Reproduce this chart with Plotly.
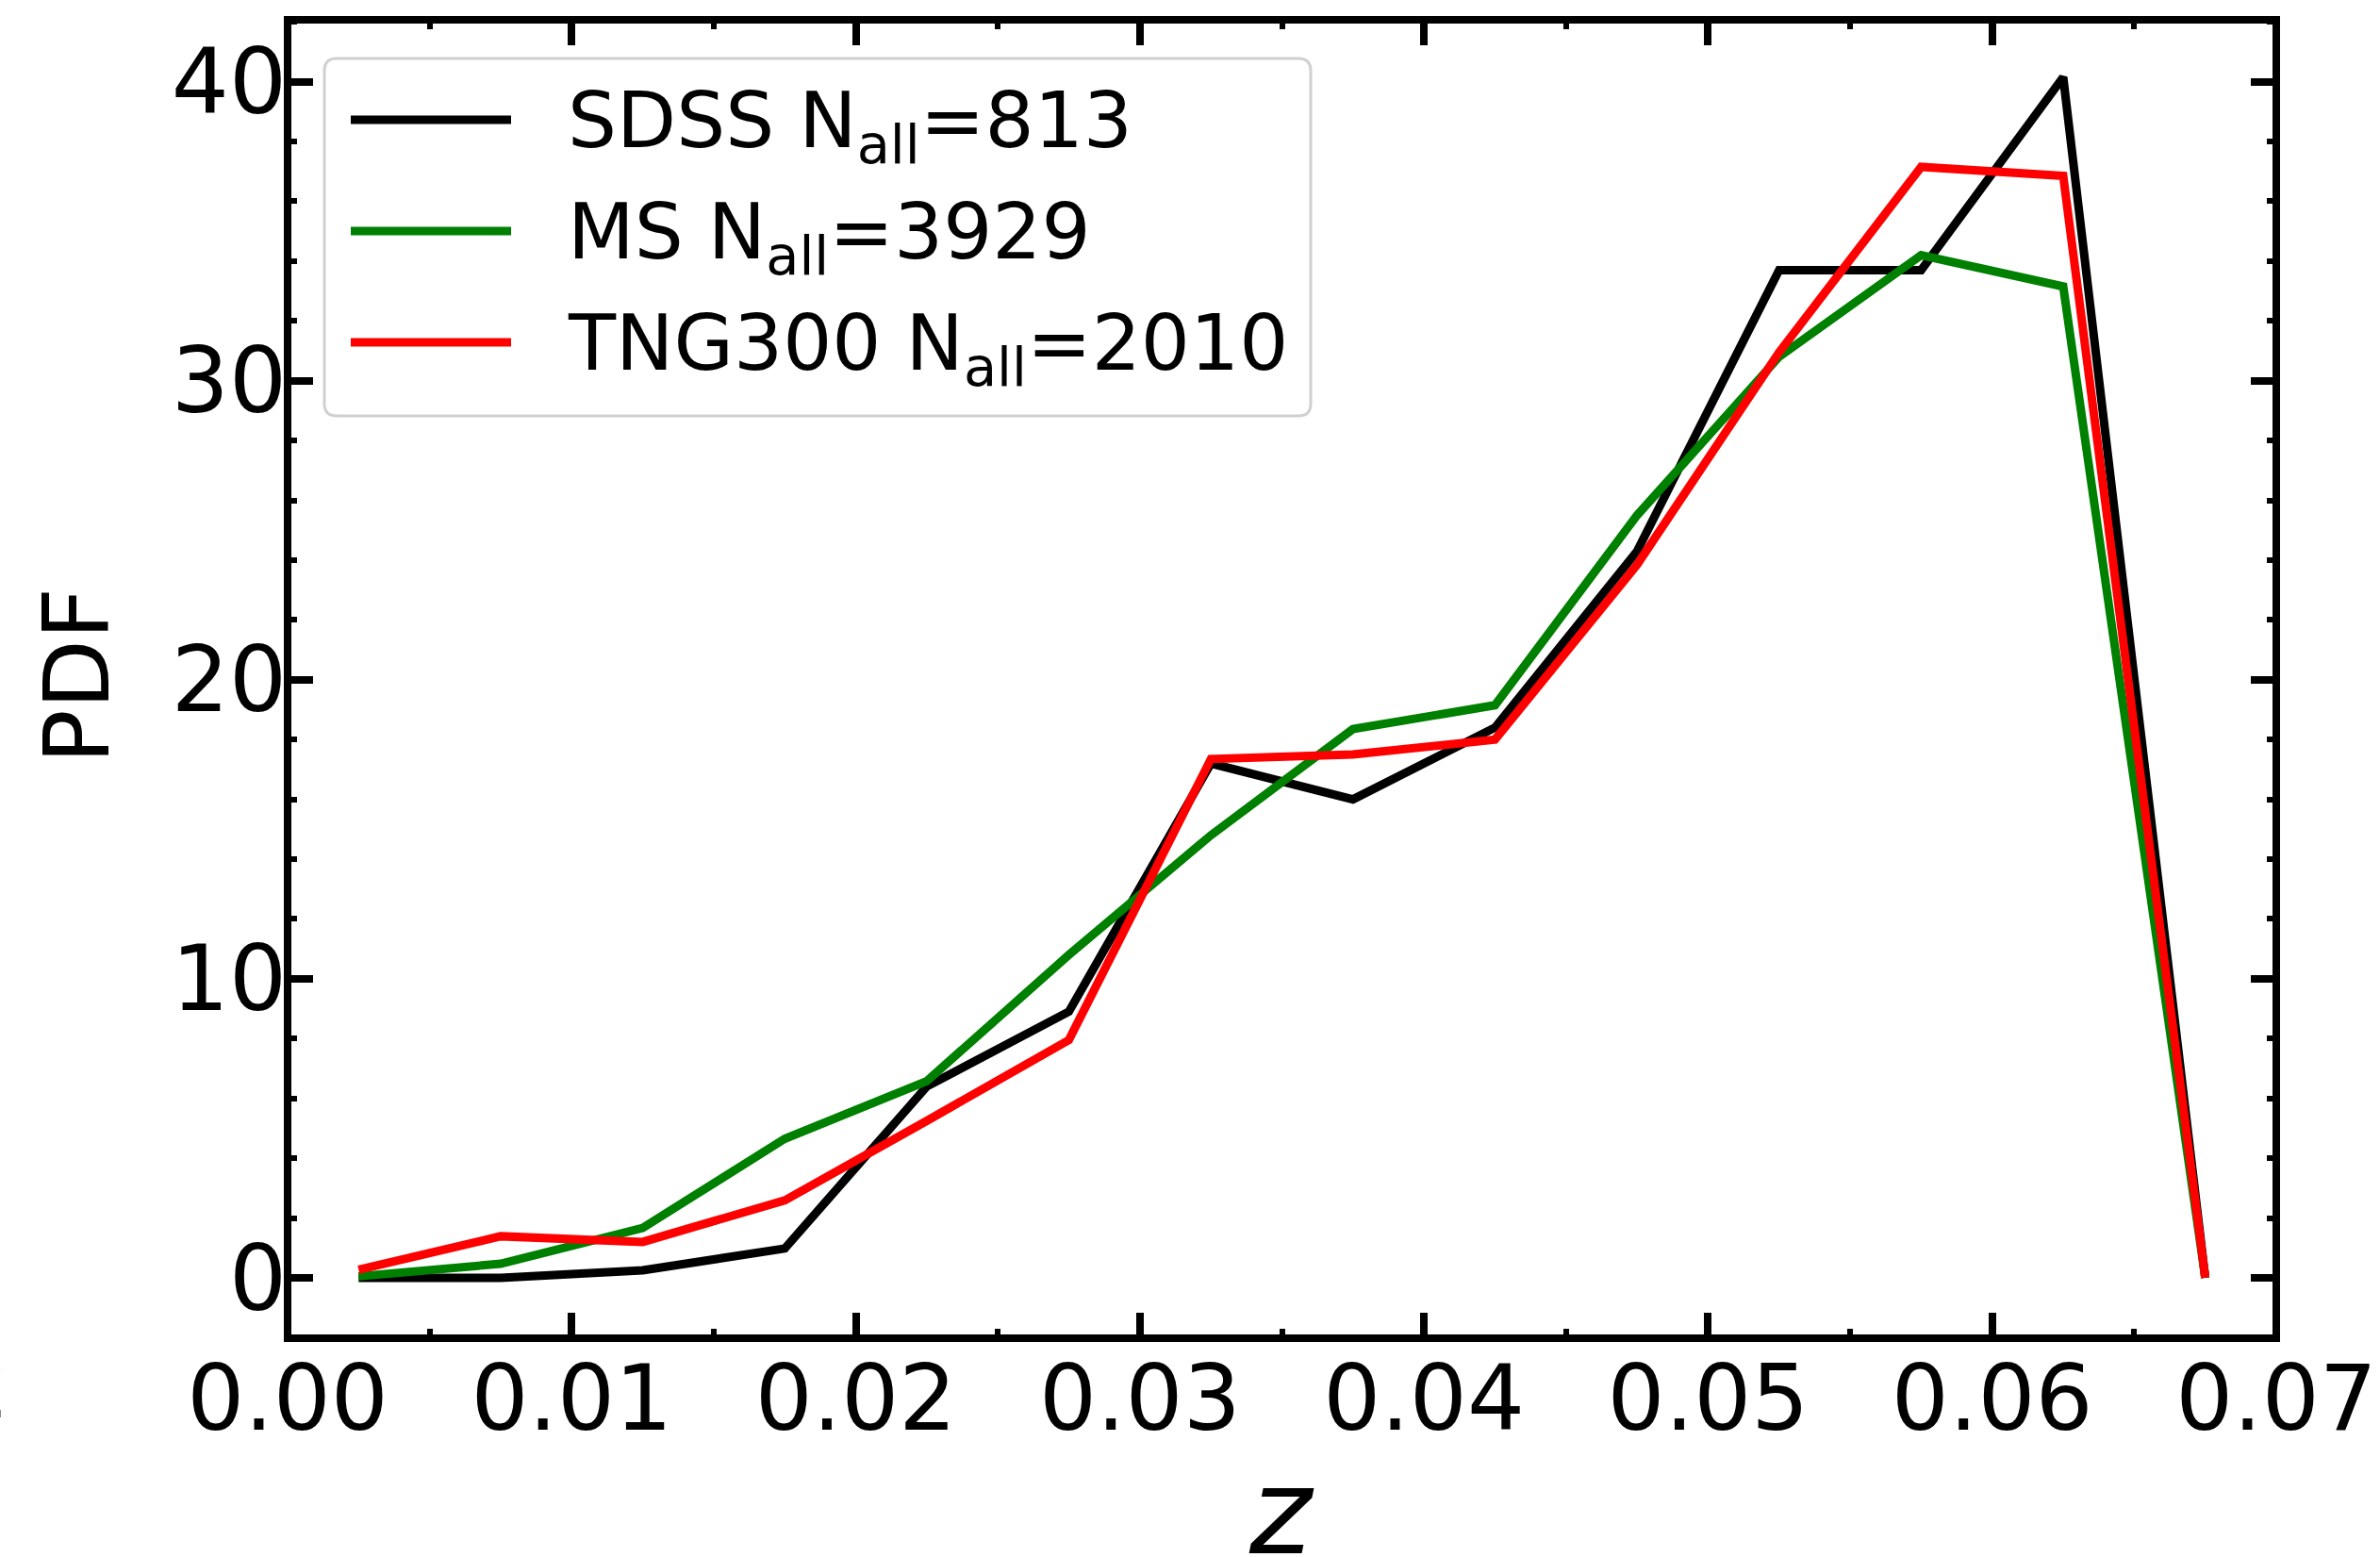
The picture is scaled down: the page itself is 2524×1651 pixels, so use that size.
import plotly.graph_objects as go

# Redshift bin centres and the normalised distributions per sample
z_centers = [0.0025, 0.0075, 0.0125, 0.0175, 0.0225, 0.0275, 0.0325,
             0.0375, 0.0425, 0.0475, 0.0525, 0.0575, 0.0625, 0.0675]
pdf_sdss = [0.0, 0.0, 0.25, 0.98, 6.4, 8.9, 17.2, 16.0, 18.4, 24.3, 33.7, 33.7, 40.15, 0.0]
pdf_ms = [0.05, 0.47, 1.67, 4.65, 6.58, 10.8, 14.8, 18.35, 19.15, 25.5, 30.8, 34.2, 33.15, 0.0]
pdf_tng = [0.27, 1.39, 1.2, 2.59, 5.25, 7.95, 17.35, 17.5, 18.0, 23.85, 30.95, 37.15, 36.85, 0.0]

series_names = ["SDSS N<sub>all</sub>=813", "MS N<sub>all</sub>=3929", "TNG300 N<sub>all</sub>=2010"]
series_colors = ["#000000", "#008000", "#ff0000"]

x_ticks = [0.00, 0.01, 0.02, 0.03, 0.04, 0.05, 0.06, 0.07]
x_ticktext = ["0.00", "0.01", "0.02", "0.03", "0.04", "0.05", "0.06", "0.07"]
y_ticks = [0, 10, 20, 30, 40]

W, H = 2524, 1651
L, R, T, B = 305, 2414, 21, 1419  # plot area in pixels
FONT = "DejaVu Sans"


def px(xp):
    return (xp - L) / (R - L)


def py(yp):
    return (B - yp) / (B - T)


fig = go.Figure()
for name, ys, col in zip(series_names, [pdf_sdss, pdf_ms, pdf_tng], series_colors):
    fig.add_trace(go.Scatter(x=z_centers, y=ys, mode="lines", name=name,
                             line=dict(color=col, width=9), showlegend=False))

axis_common = dict(
    showgrid=False, zeroline=False, showline=False, automargin=False,
    ticks="inside", ticklen=27, tickwidth=8, tickcolor="black",
    mirror="allticks",
    tickfont=dict(family=FONT, size=96, color="black"),
)

fig.update_xaxes(range=[0, 0.07], tickvals=x_ticks, ticktext=x_ticktext,
                 minor=dict(dtick=0.005, tick0=0, ticks="inside", ticklen=10,
                            tickwidth=6, tickcolor="black"),
                 **axis_common)
fig.update_yaxes(range=[-2.02, 42.07], tickvals=y_ticks,
                 minor=dict(dtick=2, tick0=0, ticks="inside", ticklen=10,
                            tickwidth=6, tickcolor="black"),
                 **axis_common)

shapes = []
# frame around the axes
shapes.append(dict(type="rect", xref="paper", yref="paper", x0=0, x1=1, y0=0, y1=1,
                   line=dict(color="black", width=8), layer="above"))

# legend box with rounded corners
bx0, bx1, by0, by1, rad = 344, 1390, 62, 441, 13
path = (f"M {px(bx0 + rad)} {py(by0)} L {px(bx1 - rad)} {py(by0)} "
        f"Q {px(bx1)} {py(by0)} {px(bx1)} {py(by0 + rad)} "
        f"L {px(bx1)} {py(by1 - rad)} Q {px(bx1)} {py(by1)} {px(bx1 - rad)} {py(by1)} "
        f"L {px(bx0 + rad)} {py(by1)} Q {px(bx0)} {py(by1)} {px(bx0)} {py(by1 - rad)} "
        f"L {px(bx0)} {py(by0 + rad)} Q {px(bx0)} {py(by0)} {px(bx0 + rad)} {py(by0)} Z")
shapes.append(dict(type="path", xref="paper", yref="paper", path=path,
                   fillcolor="rgba(255,255,255,0.8)", line=dict(color="#d0d0d0", width=3),
                   layer="above"))

annotations = []
row_y = [127, 245, 363]
for name, col, ry in zip(series_names, series_colors, row_y):
    shapes.append(dict(type="line", xref="paper", yref="paper",
                       x0=px(372), x1=px(542), y0=py(ry), y1=py(ry),
                       line=dict(color=col, width=9), layer="above"))
    annotations.append(dict(text=name, xref="paper", yref="paper",
                            x=px(600), y=py(ry + 6), xanchor="left", yanchor="middle",
                            showarrow=False, font=dict(family=FONT, size=82, color="black")))

# axis titles
annotations.append(dict(text="PDF", xref="paper", yref="paper", x=px(82), y=py(717),
                        xanchor="center", yanchor="middle", textangle=-90, showarrow=False,
                        font=dict(family=FONT, size=96, color="black")))
annotations.append(dict(text="z", xref="paper", yref="paper", x=px(1359), y=py(1528),
                        xanchor="center", yanchor="top", showarrow=False,
                        font=dict(family=FONT, size=126, color="black", style="italic")))
# clipped tick label from the adjacent panel
annotations.append(dict(text="2", xref="paper", yref="paper", x=px(12), y=py(1470),
                        xanchor="right", yanchor="middle", showarrow=False,
                        font=dict(family=FONT, size=96, color="black")))

fig.update_layout(
    width=W, height=H,
    margin=dict(l=L, r=W - R, t=T, b=H - B, pad=0, autoexpand=False),
    paper_bgcolor="white", plot_bgcolor="white",
    shapes=shapes, annotations=annotations,
    showlegend=False,
)

fig.write_html("out.html")
